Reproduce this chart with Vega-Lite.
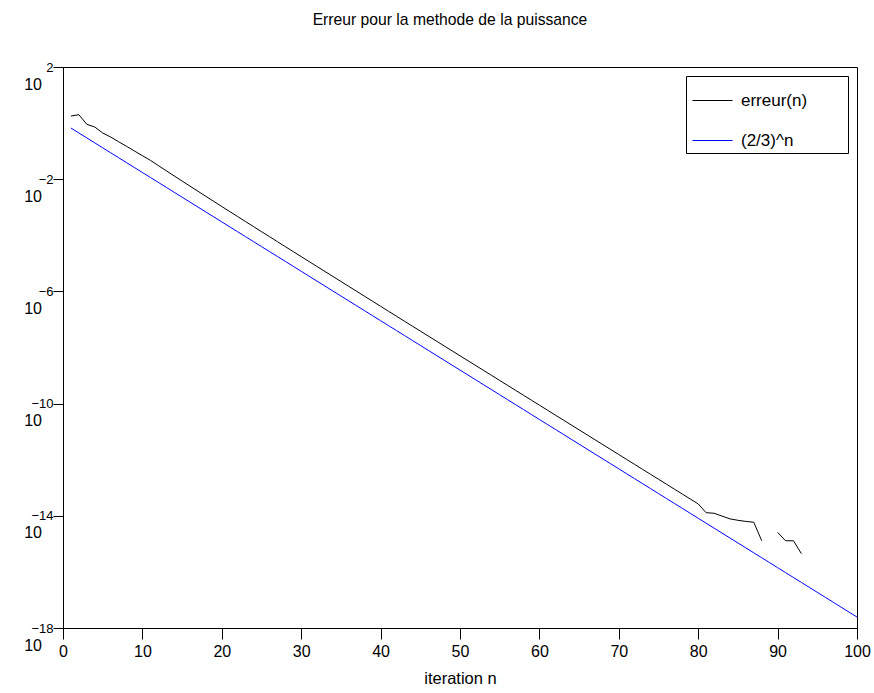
{
  "$schema": "https://vega.github.io/schema/vega-lite/v6.json",
  "width": 794,
  "height": 561,
  "autosize": "none",
  "padding": {"left": 63, "top": 67, "right": 17, "bottom": 65},
  "background": "white",
  "config": {
    "font": "Liberation Sans",
    "view": {"stroke": "black", "strokeWidth": 1},
    "axis": {"grid": false, "domainColor": "black", "tickColor": "black", "labelColor": "black", "titleColor": "black", "domainWidth": 1, "tickWidth": 1}
  },
  "title": {
    "text": "Erreur pour la methode de la puissance",
    "font": "Liberation Sans",
    "fontSize": 15.7,
    "fontWeight": "normal",
    "color": "black",
    "anchor": "middle",
    "dx": -10,
    "baseline": "alphabetic",
    "offset": 20
  },
  "datasets": {
    "curves": [
      {"n": 1, "v": 1.79, "s": "erreur(n)"},
      {"n": 2, "v": 1.99, "s": "erreur(n)"},
      {"n": 3, "v": 0.906, "s": "erreur(n)"},
      {"n": 4, "v": 0.726, "s": "erreur(n)"},
      {"n": 5, "v": 0.444, "s": "erreur(n)"},
      {"n": 6, "v": 0.319, "s": "erreur(n)"},
      {"n": 7, "v": 0.217, "s": "erreur(n)"},
      {"n": 8, "v": 0.149, "s": "erreur(n)"},
      {"n": 9, "v": 0.101, "s": "erreur(n)"},
      {"n": 10, "v": 0.0689, "s": "erreur(n)"},
      {"n": 11, "v": 0.0472, "s": "erreur(n)"},
      {"n": 12, "v": 3.07e-2, "s": "erreur(n)"},
      {"n": 13, "v": 2.00e-2, "s": "erreur(n)"},
      {"n": 14, "v": 1.31e-2, "s": "erreur(n)"},
      {"n": 15, "v": 8.61e-3, "s": "erreur(n)"},
      {"n": 16, "v": 5.65e-3, "s": "erreur(n)"},
      {"n": 17, "v": 3.71e-3, "s": "erreur(n)"},
      {"n": 18, "v": 2.44e-3, "s": "erreur(n)"},
      {"n": 19, "v": 1.61e-3, "s": "erreur(n)"},
      {"n": 20, "v": 1.06e-3, "s": "erreur(n)"},
      {"n": 21, "v": 7.03e-4, "s": "erreur(n)"},
      {"n": 22, "v": 4.65e-4, "s": "erreur(n)"},
      {"n": 23, "v": 3.08e-4, "s": "erreur(n)"},
      {"n": 24, "v": 2.04e-4, "s": "erreur(n)"},
      {"n": 25, "v": 1.35e-4, "s": "erreur(n)"},
      {"n": 26, "v": 8.97e-5, "s": "erreur(n)"},
      {"n": 27, "v": 5.94e-5, "s": "erreur(n)"},
      {"n": 28, "v": 3.94e-5, "s": "erreur(n)"},
      {"n": 29, "v": 2.62e-5, "s": "erreur(n)"},
      {"n": 30, "v": 1.74e-5, "s": "erreur(n)"},
      {"n": 31, "v": 1.157e-5, "s": "erreur(n)"},
      {"n": 32, "v": 7.69e-6, "s": "erreur(n)"},
      {"n": 33, "v": 5.12e-6, "s": "erreur(n)"},
      {"n": 34, "v": 3.40e-6, "s": "erreur(n)"},
      {"n": 35, "v": 2.26e-6, "s": "erreur(n)"},
      {"n": 36, "v": 1.506e-6, "s": "erreur(n)"},
      {"n": 37, "v": 1.001e-6, "s": "erreur(n)"},
      {"n": 38, "v": 6.66e-7, "s": "erreur(n)"},
      {"n": 39, "v": 4.43e-7, "s": "erreur(n)"},
      {"n": 40, "v": 2.95e-7, "s": "erreur(n)"},
      {"n": 41, "v": 1.96e-7, "s": "erreur(n)"},
      {"n": 42, "v": 1.304e-7, "s": "erreur(n)"},
      {"n": 43, "v": 8.67e-8, "s": "erreur(n)"},
      {"n": 44, "v": 5.78e-8, "s": "erreur(n)"},
      {"n": 45, "v": 3.85e-8, "s": "erreur(n)"},
      {"n": 46, "v": 2.57e-8, "s": "erreur(n)"},
      {"n": 47, "v": 1.713e-8, "s": "erreur(n)"},
      {"n": 48, "v": 1.142e-8, "s": "erreur(n)"},
      {"n": 49, "v": 7.61e-9, "s": "erreur(n)"},
      {"n": 50, "v": 5.07e-9, "s": "erreur(n)"},
      {"n": 51, "v": 3.38e-9, "s": "erreur(n)"},
      {"n": 52, "v": 2.26e-9, "s": "erreur(n)"},
      {"n": 53, "v": 1.504e-9, "s": "erreur(n)"},
      {"n": 54, "v": 1.003e-9, "s": "erreur(n)"},
      {"n": 55, "v": 6.68e-10, "s": "erreur(n)"},
      {"n": 56, "v": 4.46e-10, "s": "erreur(n)"},
      {"n": 57, "v": 2.97e-10, "s": "erreur(n)"},
      {"n": 58, "v": 1.98e-10, "s": "erreur(n)"},
      {"n": 59, "v": 1.320e-10, "s": "erreur(n)"},
      {"n": 60, "v": 8.80e-11, "s": "erreur(n)"},
      {"n": 61, "v": 5.87e-11, "s": "erreur(n)"},
      {"n": 62, "v": 3.91e-11, "s": "erreur(n)"},
      {"n": 63, "v": 2.61e-11, "s": "erreur(n)"},
      {"n": 64, "v": 1.739e-11, "s": "erreur(n)"},
      {"n": 65, "v": 1.159e-11, "s": "erreur(n)"},
      {"n": 66, "v": 7.73e-12, "s": "erreur(n)"},
      {"n": 67, "v": 5.15e-12, "s": "erreur(n)"},
      {"n": 68, "v": 3.43e-12, "s": "erreur(n)"},
      {"n": 69, "v": 2.29e-12, "s": "erreur(n)"},
      {"n": 70, "v": 1.526e-12, "s": "erreur(n)"},
      {"n": 71, "v": 1.017e-12, "s": "erreur(n)"},
      {"n": 72, "v": 6.78e-13, "s": "erreur(n)"},
      {"n": 73, "v": 4.52e-13, "s": "erreur(n)"},
      {"n": 74, "v": 3.01e-13, "s": "erreur(n)"},
      {"n": 75, "v": 2.01e-13, "s": "erreur(n)"},
      {"n": 76, "v": 1.340e-13, "s": "erreur(n)"},
      {"n": 77, "v": 8.93e-14, "s": "erreur(n)"},
      {"n": 78, "v": 5.96e-14, "s": "erreur(n)"},
      {"n": 79, "v": 3.97e-14, "s": "erreur(n)"},
      {"n": 80, "v": 2.65e-14, "s": "erreur(n)"},
      {"n": 81, "v": 1.29e-14, "s": "erreur(n)"},
      {"n": 82, "v": 1.23e-14, "s": "erreur(n)"},
      {"n": 83, "v": 9.77e-15, "s": "erreur(n)"},
      {"n": 84, "v": 7.76e-15, "s": "erreur(n)"},
      {"n": 85, "v": 6.92e-15, "s": "erreur(n)"},
      {"n": 86, "v": 6.31e-15, "s": "erreur(n)"},
      {"n": 87, "v": 5.89e-15, "s": "erreur(n)"},
      {"n": 88, "v": 1.29e-15, "s": "erreur(n)"},
      {"n": 89, "v": null, "s": "erreur(n)"},
      {"n": 90, "v": 2.57e-15, "s": "erreur(n)"},
      {"n": 91, "v": 1.29e-15, "s": "erreur(n)"},
      {"n": 92, "v": 1.29e-15, "s": "erreur(n)"},
      {"n": 93, "v": 4.47e-16, "s": "erreur(n)"},
      {"n": 1, "v": 0.666667, "s": "(2/3)^n"},
      {"n": 2, "v": 0.444444, "s": "(2/3)^n"},
      {"n": 3, "v": 0.296296, "s": "(2/3)^n"},
      {"n": 4, "v": 0.197531, "s": "(2/3)^n"},
      {"n": 5, "v": 0.131687, "s": "(2/3)^n"},
      {"n": 6, "v": 0.0877915, "s": "(2/3)^n"},
      {"n": 7, "v": 0.0585277, "s": "(2/3)^n"},
      {"n": 8, "v": 0.0390184, "s": "(2/3)^n"},
      {"n": 9, "v": 0.0260123, "s": "(2/3)^n"},
      {"n": 10, "v": 0.0173415, "s": "(2/3)^n"},
      {"n": 11, "v": 0.011561, "s": "(2/3)^n"},
      {"n": 12, "v": 0.00770735, "s": "(2/3)^n"},
      {"n": 13, "v": 0.00513823, "s": "(2/3)^n"},
      {"n": 14, "v": 0.00342549, "s": "(2/3)^n"},
      {"n": 15, "v": 0.00228366, "s": "(2/3)^n"},
      {"n": 16, "v": 0.00152244, "s": "(2/3)^n"},
      {"n": 17, "v": 0.00101496, "s": "(2/3)^n"},
      {"n": 18, "v": 6.7664e-4, "s": "(2/3)^n"},
      {"n": 19, "v": 4.5109e-4, "s": "(2/3)^n"},
      {"n": 20, "v": 3.0073e-4, "s": "(2/3)^n"},
      {"n": 21, "v": 2.0049e-4, "s": "(2/3)^n"},
      {"n": 22, "v": 1.3366e-4, "s": "(2/3)^n"},
      {"n": 23, "v": 8.9105e-5, "s": "(2/3)^n"},
      {"n": 24, "v": 5.9403e-5, "s": "(2/3)^n"},
      {"n": 25, "v": 3.9602e-5, "s": "(2/3)^n"},
      {"n": 26, "v": 2.6401e-5, "s": "(2/3)^n"},
      {"n": 27, "v": 1.7601e-5, "s": "(2/3)^n"},
      {"n": 28, "v": 1.1734e-5, "s": "(2/3)^n"},
      {"n": 29, "v": 7.8225e-6, "s": "(2/3)^n"},
      {"n": 30, "v": 5.215e-6, "s": "(2/3)^n"},
      {"n": 31, "v": 3.4767e-6, "s": "(2/3)^n"},
      {"n": 32, "v": 2.3178e-6, "s": "(2/3)^n"},
      {"n": 33, "v": 1.5452e-6, "s": "(2/3)^n"},
      {"n": 34, "v": 1.0301e-6, "s": "(2/3)^n"},
      {"n": 35, "v": 6.8675e-7, "s": "(2/3)^n"},
      {"n": 36, "v": 4.5783e-7, "s": "(2/3)^n"},
      {"n": 37, "v": 3.0522e-7, "s": "(2/3)^n"},
      {"n": 38, "v": 2.0348e-7, "s": "(2/3)^n"},
      {"n": 39, "v": 1.3565e-7, "s": "(2/3)^n"},
      {"n": 40, "v": 9.0435e-8, "s": "(2/3)^n"},
      {"n": 41, "v": 6.029e-8, "s": "(2/3)^n"},
      {"n": 42, "v": 4.0193e-8, "s": "(2/3)^n"},
      {"n": 43, "v": 2.6796e-8, "s": "(2/3)^n"},
      {"n": 44, "v": 1.7864e-8, "s": "(2/3)^n"},
      {"n": 45, "v": 1.1909e-8, "s": "(2/3)^n"},
      {"n": 46, "v": 7.9395e-9, "s": "(2/3)^n"},
      {"n": 47, "v": 5.293e-9, "s": "(2/3)^n"},
      {"n": 48, "v": 3.5287e-9, "s": "(2/3)^n"},
      {"n": 49, "v": 2.3525e-9, "s": "(2/3)^n"},
      {"n": 50, "v": 1.5683e-9, "s": "(2/3)^n"},
      {"n": 51, "v": 1.0455e-9, "s": "(2/3)^n"},
      {"n": 52, "v": 6.9703e-10, "s": "(2/3)^n"},
      {"n": 53, "v": 4.6469e-10, "s": "(2/3)^n"},
      {"n": 54, "v": 3.0979e-10, "s": "(2/3)^n"},
      {"n": 55, "v": 2.0653e-10, "s": "(2/3)^n"},
      {"n": 56, "v": 1.3768e-10, "s": "(2/3)^n"},
      {"n": 57, "v": 9.1789e-11, "s": "(2/3)^n"},
      {"n": 58, "v": 6.1193e-11, "s": "(2/3)^n"},
      {"n": 59, "v": 4.0795e-11, "s": "(2/3)^n"},
      {"n": 60, "v": 2.7197e-11, "s": "(2/3)^n"},
      {"n": 61, "v": 1.8131e-11, "s": "(2/3)^n"},
      {"n": 62, "v": 1.2087e-11, "s": "(2/3)^n"},
      {"n": 63, "v": 8.0582e-12, "s": "(2/3)^n"},
      {"n": 64, "v": 5.3722e-12, "s": "(2/3)^n"},
      {"n": 65, "v": 3.5814e-12, "s": "(2/3)^n"},
      {"n": 66, "v": 2.3876e-12, "s": "(2/3)^n"},
      {"n": 67, "v": 1.5918e-12, "s": "(2/3)^n"},
      {"n": 68, "v": 1.0612e-12, "s": "(2/3)^n"},
      {"n": 69, "v": 7.0744e-13, "s": "(2/3)^n"},
      {"n": 70, "v": 4.7163e-13, "s": "(2/3)^n"},
      {"n": 71, "v": 3.1442e-13, "s": "(2/3)^n"},
      {"n": 72, "v": 2.0961e-13, "s": "(2/3)^n"},
      {"n": 73, "v": 1.3974e-13, "s": "(2/3)^n"},
      {"n": 74, "v": 9.3161e-14, "s": "(2/3)^n"},
      {"n": 75, "v": 6.2107e-14, "s": "(2/3)^n"},
      {"n": 76, "v": 4.1405e-14, "s": "(2/3)^n"},
      {"n": 77, "v": 2.7603e-14, "s": "(2/3)^n"},
      {"n": 78, "v": 1.8402e-14, "s": "(2/3)^n"},
      {"n": 79, "v": 1.2268e-14, "s": "(2/3)^n"},
      {"n": 80, "v": 8.1787e-15, "s": "(2/3)^n"},
      {"n": 81, "v": 5.4525e-15, "s": "(2/3)^n"},
      {"n": 82, "v": 3.635e-15, "s": "(2/3)^n"},
      {"n": 83, "v": 2.4233e-15, "s": "(2/3)^n"},
      {"n": 84, "v": 1.6155e-15, "s": "(2/3)^n"},
      {"n": 85, "v": 1.077e-15, "s": "(2/3)^n"},
      {"n": 86, "v": 7.1802e-16, "s": "(2/3)^n"},
      {"n": 87, "v": 4.7868e-16, "s": "(2/3)^n"},
      {"n": 88, "v": 3.1912e-16, "s": "(2/3)^n"},
      {"n": 89, "v": 2.1275e-16, "s": "(2/3)^n"},
      {"n": 90, "v": 1.4183e-16, "s": "(2/3)^n"},
      {"n": 91, "v": 9.4554e-17, "s": "(2/3)^n"},
      {"n": 92, "v": 6.3036e-17, "s": "(2/3)^n"},
      {"n": 93, "v": 4.2024e-17, "s": "(2/3)^n"},
      {"n": 94, "v": 2.8016e-17, "s": "(2/3)^n"},
      {"n": 95, "v": 1.8677e-17, "s": "(2/3)^n"},
      {"n": 96, "v": 1.2452e-17, "s": "(2/3)^n"},
      {"n": 97, "v": 8.3011e-18, "s": "(2/3)^n"},
      {"n": 98, "v": 5.5341e-18, "s": "(2/3)^n"},
      {"n": 99, "v": 3.6894e-18, "s": "(2/3)^n"},
      {"n": 100, "v": 2.4596e-18, "s": "(2/3)^n"}
    ],
    "ticks": [
      {"t": 1e2},
      {"t": 1e-2},
      {"t": 1e-6},
      {"t": 1e-10},
      {"t": 1e-14},
      {"t": 1e-18}
    ]
  },
  "layer": [
    {
      "data": {"name": "curves"},
      "mark": {"type": "line", "strokeWidth": 1, "interpolate": "linear"},
      "encoding": {
        "x": {
          "field": "n",
          "type": "quantitative",
          "scale": {"domain": [0, 100], "nice": false, "zero": false},
          "axis": {
            "title": "iteration n",
            "titleFont": "Liberation Sans",
            "titleFontSize": 16.5,
            "titleFontWeight": "normal",
            "titlePadding": 11,
            "values": [0, 5, 10, 15, 20, 25, 30, 35, 40, 45, 50, 55, 60, 65, 70, 75, 80, 85, 90, 95, 100],
            "labelExpr": "datum.value % 10 === 0 ? format(datum.value, 'd') : ''",
            "labelFont": "Liberation Sans",
            "labelFontSize": 16,
            "labelPadding": 4,
            "labelFlush": false,
            "labelOverlap": false,
            "tickSize": {"condition": {"test": "datum.value % 10 === 0", "value": 11}, "value": 8}
          }
        },
        "y": {
          "field": "v",
          "type": "quantitative",
          "scale": {"type": "log", "domain": [1e-18, 1e2], "nice": false},
          "axis": {
            "title": null,
            "values": [1e2, 1e-2, 1e-6, 1e-10, 1e-14, 1e-18],
            "labelExpr": "(datum.value < 1 ? '−' : '') + format(abs(round(log(datum.value) / LN10)), 'd')",
            "labelFont": "Liberation Sans",
            "labelFontSize": 13,
            "labelAlign": "right",
            "labelBaseline": "middle",
            "labelPadding": 0,
            "labelFlush": false,
            "labelOverlap": false,
            "tickSize": 10
          }
        },
        "color": {
          "field": "s",
          "type": "nominal",
          "scale": {"domain": ["erreur(n)", "(2/3)^n"], "range": ["#000000", "#0000ff"]},
          "legend": {
            "orient": "none",
            "legendX": 623,
            "legendY": 9,
            "title": null,
            "strokeColor": "black",
            "fillColor": "white",
            "padding": 4,
            "symbolType": "stroke",
            "symbolSize": 1600,
            "symbolStrokeWidth": 1,
            "symbolOffset": 2,
            "labelFont": "Liberation Sans",
            "labelFontSize": 17,
            "labelColor": "black",
            "labelOffset": 8,
            "rowPadding": 11,
            "labelExpr": "datum.label + '\u2800\u2800\u2800'"
          }
        }
      }
    },
    {
      "data": {"name": "ticks"},
      "mark": {"type": "text", "text": "10", "font": "Liberation Sans", "fontSize": 16, "align": "right", "baseline": "middle", "dx": -21, "dy": 17.5, "color": "black"},
      "encoding": {
        "x": {"datum": 0, "type": "quantitative"},
        "y": {"field": "t", "type": "quantitative", "axis": {"title": null}}
      }
    }
  ]
}
